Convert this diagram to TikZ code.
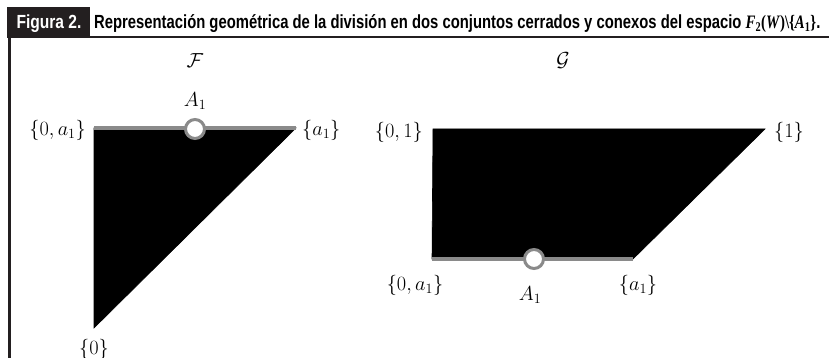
\documentclass[tikz,border=0pt]{standalone}
\usepackage{fontspec}
\usepackage{graphicx}
\newfontfamily\hdfont{Liberation Sans}
\newfontfamily\tmfont{Liberation Serif}
\definecolor{ink}{HTML}{231F20}
\definecolor{edgegray}{HTML}{8A8A8A}
\tikzset{
  lbl/.style={inner sep=0pt, font=\huge, scale=0.98},
  region/.style={fill=black, draw=black, line width=0.6pt, line join=miter},
  openedge/.style={draw=edgegray, line width=3.5pt},
  hole/.style={circle, fill=white, draw=edgegray, line width=3pt, minimum size=19pt, inner sep=0pt},
}
\begin{document}
\begin{tikzpicture}[x=1pt,y=-1pt]
\useasboundingbox (0,0) rectangle (829,358);
% header
\fill[ink] (7,7) rectangle (90,37);
\node[text=white, font=\hdfont\bfseries\fontsize{19}{22}\selectfont, inner sep=0pt] (fig) at (49,24) {\scalebox{0.82}[1]{Figura 2.}};
\node[anchor=west, inner sep=0pt, font=\fontsize{19}{22}\selectfont] (title) at (94,24) {\scalebox{0.78}[1]{\hdfont\bfseries Representación geométrica de la división en dos conjuntos cerrados y conexos del espacio {\tmfont\bfseries\itshape F}{\tmfont\bfseries\textsubscript{2}(\textit{W})\textbackslash\{\textit{A}\textsubscript{1}\}}.}};
\draw[ink, line width=2pt] (7,37) -- (829,37);
\draw[ink, line width=3pt] (9.5,36) -- (9.5,358);
% F region
\coordinate (f1) at (94,128);
\coordinate (f2) at (296,128);
\coordinate (f3) at (94,328);
\path[region] (f1) -- (f2) -- (f3) -- cycle;
\draw[openedge] (f1) -- (f2);
\node[hole] (fa) at (195,129) {};
\node[lbl] (fname) at (195,61) {$\mathcal{F}$};
\node[lbl] (fA) at (195,101) {$A_1$};
\node[lbl, anchor=east] (f0a) at (86,130) {$\{0,a_1\}$};
\node[lbl, anchor=west] (fa1) at (302,130) {$\{a_1\}$};
\node[lbl] (f0) at (94,349) {$\{0\}$};
% G region
\coordinate (g1) at (433,129);
\coordinate (g2) at (765,129);
\coordinate (g3) at (633,259);
\coordinate (g4) at (432,259);
\path[region] (g1) -- (g2) -- (g3) -- (g4) -- cycle;
\draw[openedge] (g4) -- (g3);
\node[hole] (ga) at (534,259) {};
\node[lbl] (gname) at (563,61) {$\mathcal{G}$};
\node[lbl, anchor=east] (g01) at (423,132) {$\{0,1\}$};
\node[lbl, anchor=west] (g1l) at (774,132) {$\{1\}$};
\node[lbl] (g0a) at (415,285) {$\{0,a_1\}$};
\node[lbl] (gA) at (530,295) {$A_1$};
\node[lbl] (ga1) at (638,285) {$\{a_1\}$};
\end{tikzpicture}
\end{document}
